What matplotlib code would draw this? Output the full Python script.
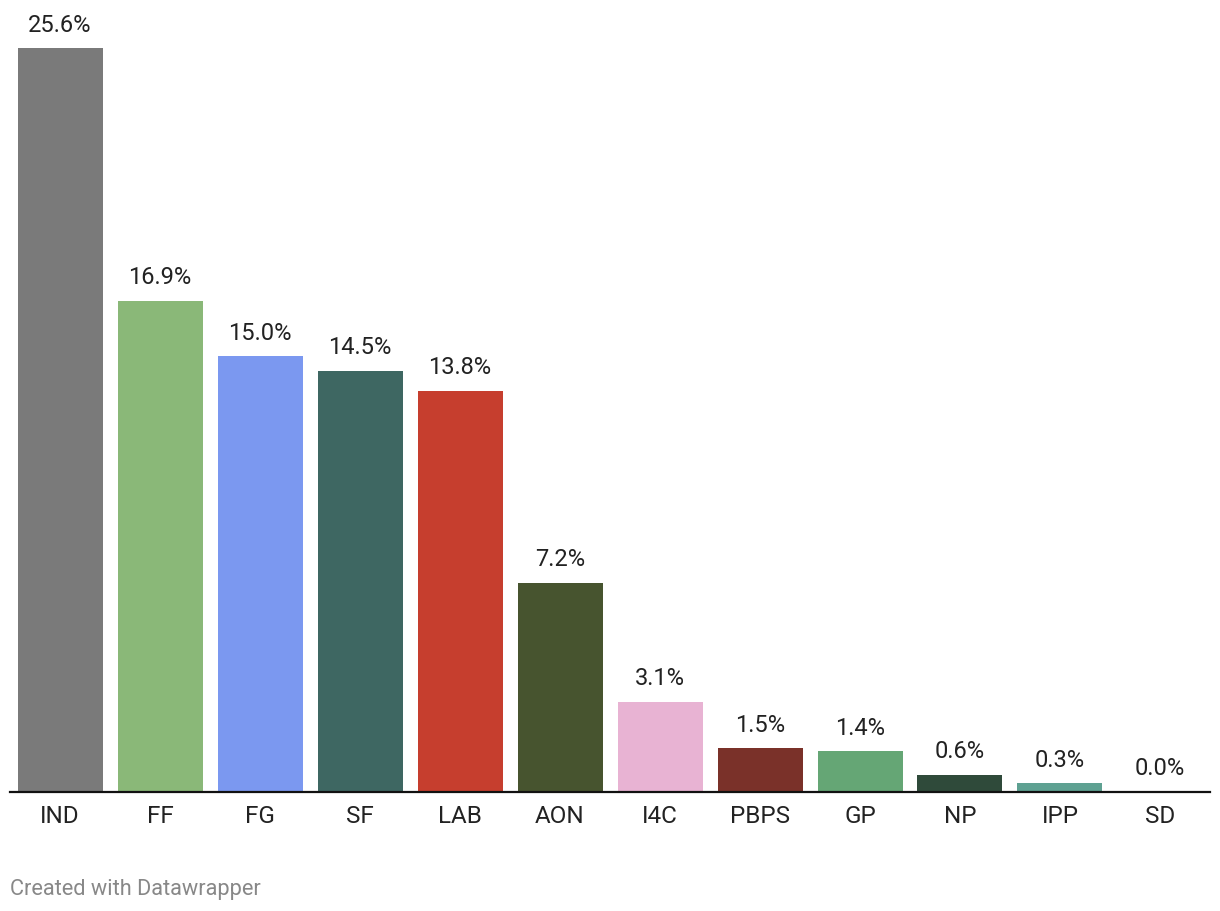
import matplotlib.pyplot as plt

plt.rcParams['font.family'] = ['Roboto', 'DejaVu Sans']

parties = ['IND', 'FF', 'FG', 'SF', 'LAB', 'AON', 'I4C', 'PBPS', 'GP', 'NP', 'IPP', 'SD']
shares = [25.6, 16.9, 15.0, 14.5, 13.8, 7.2, 3.1, 1.5, 1.4, 0.6, 0.3, 0.0]
colors = ['#7a7a7a', '#8ab878', '#7b98f0', '#3e6762', '#c63e2e', '#47542f',
          '#e8b3d3', '#7a3129', '#65a675', '#2f4a3a', '#5ea192', '#999999']

fig = plt.figure(figsize=(12.2, 9.12), dpi=100)
ax = fig.add_axes([10 / 1220, 119 / 912, 1200 / 1220, 782 / 912])

x = range(len(parties))
ax.bar(x, shares, width=0.85, color=colors)
ax.set_xlim(-0.5, len(parties) - 0.5)
ax.set_ylim(0, 782 / 29.06)

for i, v in enumerate(shares):
    ax.annotate(f'{v:.1f}%', (i, v), xytext=(0, 9), textcoords='offset points',
                ha='center', va='bottom', fontsize=17, color='#222222')

ax.set_xticks(list(x))
ax.set_xticklabels(parties, fontsize=17.5, color='#222222')
ax.tick_params(axis='x', length=0, pad=9)
ax.set_yticks([])
for s in ['top', 'right', 'left']:
    ax.spines[s].set_visible(False)
ax.spines['bottom'].set_linewidth(1.6)
ax.spines['bottom'].set_color('#111111')

fig.text(10 / 1220, 1 - 895 / 912, 'Created with Datawrapper', fontsize=15.7,
         color='#888888', ha='left', va='baseline')

fig.savefig('out.png', dpi=100)
